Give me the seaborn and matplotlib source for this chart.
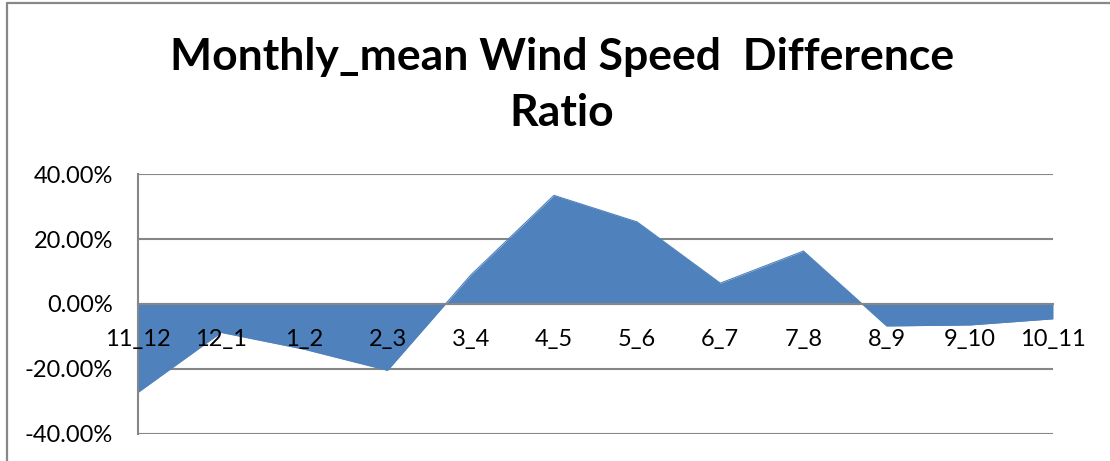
import matplotlib
matplotlib.use("Agg")
import matplotlib.pyplot as plt
import matplotlib.ticker as mticker
import seaborn as sns
import pandas as pd

# month-pair labels and wind speed difference ratio (%)
periods = ["11_12", "12_1", "1_2", "2_3", "3_4", "4_5",
           "5_6", "6_7", "7_8", "8_9", "9_10", "10_11"]
ratio = [-27.3, -8.8, -14.0, -20.5, 8.9, 33.5,
         25.3, 6.4, 16.3, -6.8, -6.5, -4.6]

df = pd.DataFrame({"period": periods, "ratio": [r / 100 for r in ratio]})
df["pos"] = range(len(df))

sns.set_style("whitegrid")
plt.rcParams["font.family"] = ["Lato", "DejaVu Sans"]
plt.rcParams["axes.unicode_minus"] = False

blue = "#4F81BD"
grey = "#868686"

fig = plt.figure(figsize=(11.1, 4.61), dpi=100)
ax = fig.add_axes([138 / 1110, 1 - 433.5 / 461, (1053 - 138) / 1110, (433.5 - 174.3) / 461])

sns.lineplot(data=df, x="pos", y="ratio", color=blue, linewidth=0.8, ax=ax)
ax.fill_between(df["pos"], 0, df["ratio"], color=blue, linewidth=0, zorder=1)

ax.set_xlim(0, len(periods) - 1)
ax.set_ylim(-0.4, 0.4)
ax.set_yticks([-0.4, -0.2, 0, 0.2, 0.4])
ax.yaxis.set_major_formatter(mticker.PercentFormatter(1.0, decimals=2))
ax.set_xticks(df["pos"])
ax.set_xticklabels(periods)
ax.set_xlabel("")
ax.set_ylabel("")

ax.grid(axis="x", visible=False)
ax.grid(axis="y", color=grey, linewidth=1.5)
for s in ["top", "right"]:
    ax.spines[s].set_visible(False)
ax.spines["left"].set_color(grey)
ax.spines["left"].set_linewidth(1.5)
ax.spines["bottom"].set_position(("data", 0))
ax.spines["bottom"].set_color(grey)
ax.spines["bottom"].set_linewidth(1.5)
ax.spines["bottom"].set_zorder(2.5)

ax.tick_params(axis="x", length=0, pad=18, labelsize=17, colors="black")
ax.tick_params(axis="y", length=0, pad=18, labelsize=17, colors="black")
ax.xaxis.set_zorder(3)

fig.text(562 / 1110, 1 - 85 / 461, "Monthly_mean Wind Speed  Difference\nRatio",
         ha="center", va="center", fontsize=32, fontweight="bold",
         color="black", linespacing=1.5)

# chart area border (left and top edges visible)
fig.add_artist(plt.Line2D([7 / 1110, 7 / 1110], [0, 1 - 3 / 461], transform=fig.transFigure,
                          color="#888888", linewidth=1.6))
fig.add_artist(plt.Line2D([7 / 1110, 1], [1 - 3 / 461, 1 - 3 / 461], transform=fig.transFigure,
                          color="#888888", linewidth=1.6))

fig.savefig("out.png", dpi=100, facecolor="white")
